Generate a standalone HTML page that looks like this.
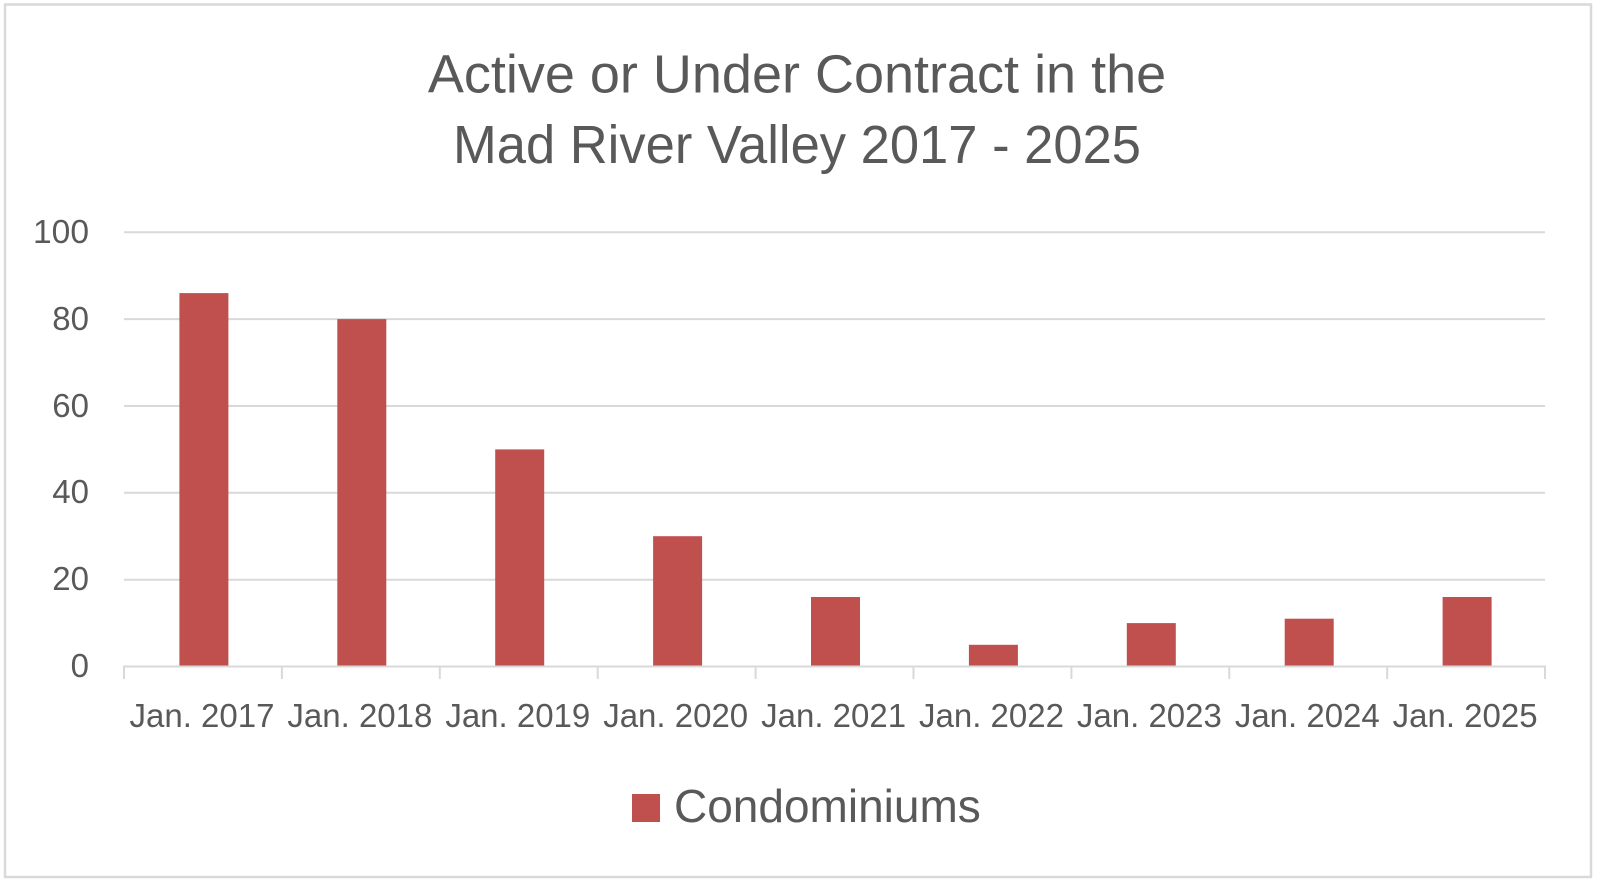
<!DOCTYPE html>
<html>
<head>
<meta charset="utf-8">
<style>
  html, body { margin: 0; padding: 0; background: #ffffff; }
  svg { display: block; }
  text { font-family: "Liberation Sans", Arial, sans-serif; fill: #595959; }
</style>
</head>
<body>
<svg width="1600" height="884" viewBox="0 0 1600 884" xmlns="http://www.w3.org/2000/svg">
  <rect x="0" y="0" width="1600" height="884" fill="#ffffff"/>
  <rect x="5" y="4.5" width="1586" height="872.5" fill="#ffffff" stroke="#d9d9d9" stroke-width="2.5"/>

  <!-- Title -->
  <text x="797" y="92.5" font-size="54" text-anchor="middle">Active or Under Contract in the</text>
  <text x="797" y="163" font-size="54" text-anchor="middle" textLength="688" lengthAdjust="spacingAndGlyphs">Mad River Valley 2017 - 2025</text>

  <!-- Gridlines -->
  <g stroke="#d9d9d9" stroke-width="2">
    <line x1="124" y1="232.3" x2="1545" y2="232.3"/>
    <line x1="124" y1="319.1" x2="1545" y2="319.1"/>
    <line x1="124" y1="406" x2="1545" y2="406"/>
    <line x1="124" y1="492.8" x2="1545" y2="492.8"/>
    <line x1="124" y1="579.7" x2="1545" y2="579.7"/>
  </g>

  <!-- Y labels -->
  <g font-size="33" text-anchor="end">
    <text x="89" y="243" textLength="56" lengthAdjust="spacingAndGlyphs">100</text>
    <text x="89" y="330">80</text>
    <text x="89" y="417">60</text>
    <text x="89" y="503">40</text>
    <text x="89" y="590">20</text>
    <text x="89" y="677">0</text>
  </g>

  <!-- Bars -->
  <g fill="#c0504d">
    <rect x="179.4" y="293.1" width="49" height="373.4"/>
    <rect x="337.3" y="319.1" width="49" height="347.4"/>
    <rect x="495.2" y="449.4" width="49" height="217.1"/>
    <rect x="653.1" y="536.2" width="49" height="130.3"/>
    <rect x="811.0" y="597.0" width="49" height="69.5"/>
    <rect x="968.9" y="644.8" width="49" height="21.7"/>
    <rect x="1126.8" y="623.1" width="49" height="43.4"/>
    <rect x="1284.7" y="618.7" width="49" height="47.8"/>
    <rect x="1442.6" y="597.0" width="49" height="69.5"/>
  </g>

  <!-- X axis -->
  <g stroke="#d9d9d9" stroke-width="2">
    <line x1="123" y1="666.5" x2="1546" y2="666.5"/>
    <line x1="124" y1="666.5" x2="124" y2="679"/>
    <line x1="281.9" y1="666.5" x2="281.9" y2="679"/>
    <line x1="439.8" y1="666.5" x2="439.8" y2="679"/>
    <line x1="597.7" y1="666.5" x2="597.7" y2="679"/>
    <line x1="755.6" y1="666.5" x2="755.6" y2="679"/>
    <line x1="913.5" y1="666.5" x2="913.5" y2="679"/>
    <line x1="1071.4" y1="666.5" x2="1071.4" y2="679"/>
    <line x1="1229.3" y1="666.5" x2="1229.3" y2="679"/>
    <line x1="1387.2" y1="666.5" x2="1387.2" y2="679"/>
    <line x1="1545" y1="666.5" x2="1545" y2="679"/>
  </g>

  <!-- X labels -->
  <g font-size="33" text-anchor="middle">
    <text x="202" y="727">Jan. 2017</text>
    <text x="359.9" y="727">Jan. 2018</text>
    <text x="517.8" y="727">Jan. 2019</text>
    <text x="675.7" y="727">Jan. 2020</text>
    <text x="833.6" y="727">Jan. 2021</text>
    <text x="991.5" y="727">Jan. 2022</text>
    <text x="1149.4" y="727">Jan. 2023</text>
    <text x="1307.3" y="727">Jan. 2024</text>
    <text x="1465.1" y="727">Jan. 2025</text>
  </g>

  <!-- Legend -->
  <rect x="632" y="794" width="28" height="28" fill="#c0504d"/>
  <text x="674" y="822" font-size="46">Condominiums</text>
</svg>
</body>
</html>
